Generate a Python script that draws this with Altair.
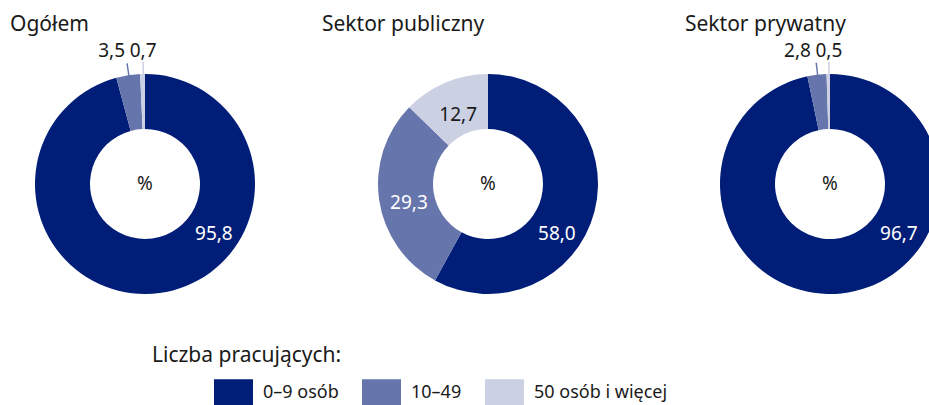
import altair as alt
import pandas as pd

# ---- data ----
sectors = ["Ogółem", "Sektor publiczny", "Sektor prywatny"]
categories = ["0–9 osób", "10–49", "50 osób i więcej"]
values_ogolem = [95.8, 3.5, 0.7]
values_publiczny = [58.0, 29.3, 12.7]
values_prywatny = [96.7, 2.8, 0.5]
legend_title = ["Liczba pracujących:"]
center_text = "%"

colors = ["#001E78", "#6675AB", "#CBD0E3"]

rows = []
for s, vals in zip(sectors, [values_ogolem, values_publiczny, values_prywatny]):
    for i, (c, v) in enumerate(zip(categories, vals)):
        rows.append({"sector": s, "cat": c, "value": v, "order": i})
df = pd.DataFrame(rows)
sec_df = pd.DataFrame({"sector": sectors})
lt_df = pd.DataFrame({"t": legend_title})

# ---- layout ----
FONT = "Noto Sans"
FS = 19
FS_TITLE = 21
TXT = "#1a1a1a"
CX = [145, 488, 830]
CY = 184
TITLE_X = [10, 322, 685]
TITLE_Y = 31
R_IN, R_OUT = 55, 110

color_scale = alt.Scale(domain=categories, range=colors)
theta_scale = alt.Scale(domain=[0, 100])
legend = alt.Legend(
    orient="none", legendX=214, legendY=373, direction="horizontal", title=None,
    symbolType="M-1,-0.7H1V0.7H-1Z", symbolSize=1521, symbolStrokeWidth=0,
    labelFont=FONT, labelFontSize=18, labelColor=TXT, labelOffset=10,
    columnPadding=23, padding=0, labelLimit=400,
)
color_enc = alt.Color("cat:N", scale=color_scale, legend=legend)

layers = []
for k, s in enumerate(sectors):
    cx = CX[k]
    pos = dict(x=alt.value(cx), y=alt.value(CY))
    d = alt.Chart(df).transform_filter(alt.datum.sector == s)

    arcs = d.mark_arc(innerRadius=R_IN, outerRadius=R_OUT).encode(
        theta=alt.Theta("value:Q", stack=True, scale=theta_scale),
        color=color_enc,
        order=alt.Order("order:Q"),
        **pos,
    )

    m = d.transform_window(
        cum="sum(value)", sort=[alt.SortField("order")]
    ).transform_calculate(
        mid="datum.cum - datum.value / 2",
        mid2="datum.cum - datum.value / 2 + 0.2",
        nextmid="(datum.cum + 100) / 2",
        label="replace(format(datum.value, '.1f'), '.', ',')",
    )

    dark_lbl = m.transform_filter(alt.datum.order == 0).mark_text(
        theta=2.18, radius=84, color="white", fontSize=FS, font=FONT,
        baseline="middle", dy=2,
    ).encode(text="label:N", **pos)

    in_lbl = m.transform_filter(
        (alt.datum.order > 0) & (alt.datum.value >= 10)
    ).mark_text(radius=82, fontSize=FS, font=FONT, baseline="middle", dy=7,
                dx=2).encode(
        theta=alt.Theta("mid:Q", scale=theta_scale),
        text="label:N",
        color=alt.condition(alt.datum.order == 1, alt.value("white"), alt.value(TXT)),
        **pos,
    )

    # small "10–49" label sits just left of the neighbouring small label
    out_mid = m.transform_filter(
        (alt.datum.order == 1) & (alt.datum.value < 10)
    ).mark_text(radius=133, fontSize=FS, font=FONT, baseline="middle",
                align="right", dx=-17, color=TXT).encode(
        theta=alt.Theta("nextmid:Q", scale=theta_scale), text="label:N", **pos,
    )
    out_small = m.transform_filter(
        (alt.datum.order == 2) & (alt.datum.value < 10)
    ).mark_text(radius=133, fontSize=FS, font=FONT, baseline="middle",
                align="center", dx=1, color=TXT).encode(
        theta=alt.Theta("mid:Q", scale=theta_scale), text="label:N", **pos,
    )

    leaders = m.transform_filter(alt.datum.value < 10).mark_arc(
        innerRadius=106, outerRadius=122
    ).encode(
        theta=alt.Theta("mid:Q", scale=theta_scale),
        theta2="mid2:Q",
        color=color_enc,
        **pos,
    )

    s_df = alt.Chart(sec_df).transform_filter(alt.datum.sector == s)
    pct = s_df.mark_text(text=center_text, fontSize=FS, font=FONT, color=TXT,
                         baseline="middle").encode(**pos)
    title = s_df.mark_text(align="left", baseline="alphabetic", fontSize=FS_TITLE,
                           font=FONT, color=TXT).encode(
        text="sector:N", x=alt.value(TITLE_X[k]), y=alt.value(TITLE_Y))

    layers += [arcs, leaders, dark_lbl, in_lbl, out_mid, out_small, pct, title]

ltitle = alt.Chart(lt_df).mark_text(align="left", baseline="alphabetic",
                                    fontSize=FS_TITLE, font=FONT, color=TXT).encode(
    text="t:N", x=alt.value(152), y=alt.value(362))
layers.append(ltitle)

chart = alt.layer(*layers).properties(
    width=929, height=405, autosize="none", padding=0
).configure_view(stroke=None)

chart.save("out.html", embed_options={"renderer": "svg", "actions": False})
